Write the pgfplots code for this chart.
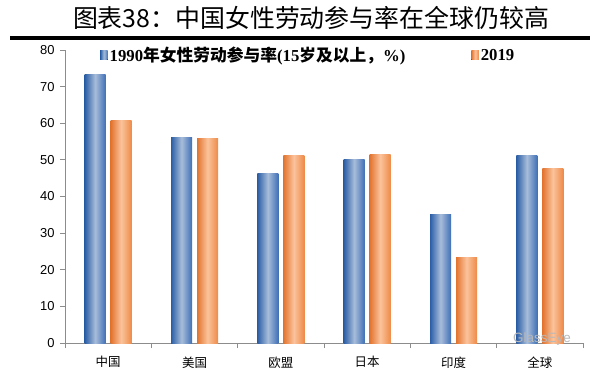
\documentclass[border=0pt]{standalone}
\usepackage{fontspec}
\usepackage{pgfplots}
\pgfplotsset{compat=1.18}
\setmainfont{Liberation Serif}
\newfontfamily\cjk{Noto Sans CJK SC}
\newfontfamily\sans{Liberation Sans}
\definecolor{bdark}{HTML}{2B5EA6}
\definecolor{blight}{HTML}{A8BDDA}
\definecolor{bright}{HTML}{3F70B6}
\definecolor{odark}{HTML}{E2742F}
\definecolor{olight}{HTML}{FBC39C}
\definecolor{oright}{HTML}{EE8A48}
\definecolor{axgray}{HTML}{8C8C8C}
\pgfplotsset{
  bluebar/.style={ybar, bar width=21bp, bar shift=-13bp, draw=none, left color=bdark, right color=bright, middle color=blight},
  orangebar/.style={ybar, bar width=21bp, bar shift=13bp, draw=none, left color=odark, right color=oright, middle color=olight},
}
\newcommand\bbar[2]{\addplot[bluebar, forget plot] coordinates {(#1,#2)};}
\newcommand\obar[2]{\addplot[orangebar, forget plot] coordinates {(#1,#2)};}
\begin{document}
\begin{tikzpicture}[x=1bp,y=1bp]
\useasboundingbox (0,0) rectangle (590,368);
\fill[white] (0,0) rectangle (590,368);
\node[font=\cjk\fontsize{25}{25}\selectfont, anchor=center] at (311,350) {图表38：中国女性劳动参与率在全球仍较高};
\draw[line width=3.5bp, black] (10,330) -- (590,330);
\begin{axis}[
  at={(65bp,25bp)}, anchor=south west,
  scale only axis, width=518bp, height=293bp,
  xmin=0, xmax=6, ymin=0, ymax=80,
  axis x line*=bottom, axis y line*=left,
  axis line style={axgray, line width=0.8bp},
  ytick={0,10,...,80},
  xtick={0,...,6},
  xticklabels={中国,美国,欧盟,日本,印度,全球},
  x tick label as interval=true,
  tick style={axgray, line width=0.8bp},
  major tick length=5bp,
  tick align=outside,
  xtick pos=bottom, ytick pos=left,
  /pgf/number format/assume math mode=true,
  yticklabel style={font=\sans\fontsize{13}{13}\selectfont, xshift=-2bp},
  xticklabel style={font=\cjk\fontsize{12.5}{12.5}\selectfont, yshift=-5bp},
  legend columns=2,
  legend style={draw=none, fill=none, at={(0.0676,1.017)}, anchor=north west,
    font=\bfseries\fontsize{16.8}{16.8}\selectfont, /tikz/every even column/.append style={column sep=64bp},
    inner sep=0pt},
  legend cell align=left,
]
\addplot[bluebar, legend image code/.code={\fill[left color=bdark, right color=bright, middle color=blight] (0bp,-4.5bp) rectangle (7.5bp,4.5bp);}]
  coordinates {(0.5,73.3)};
\addlegendentry{1990{\cjk\bfseries 年女性劳动参与率}(15{\cjk\bfseries 岁及以上，}\%)}
\addplot[orangebar, legend image code/.code={\fill[left color=odark, right color=oright, middle color=olight] (0bp,-4.5bp) rectangle (7.5bp,4.5bp);}]
  coordinates {(0.5,60.7)};
\addlegendentry{2019}
\bbar{1.5}{56.2}
\bbar{2.5}{46.4}
\bbar{3.5}{50.1}
\bbar{4.5}{35.2}
\bbar{5.5}{51.3}
\obar{1.5}{55.9}
\obar{2.5}{51.2}
\obar{3.5}{51.5}
\obar{4.5}{23.3}
\obar{5.5}{47.7}
\end{axis}
\node[font=\sans\fontsize{13.5}{13.5}\selectfont, text=gray!55, anchor=west, inner sep=0pt] at (513,29) {GlassEye};
\end{tikzpicture}
\end{document}
